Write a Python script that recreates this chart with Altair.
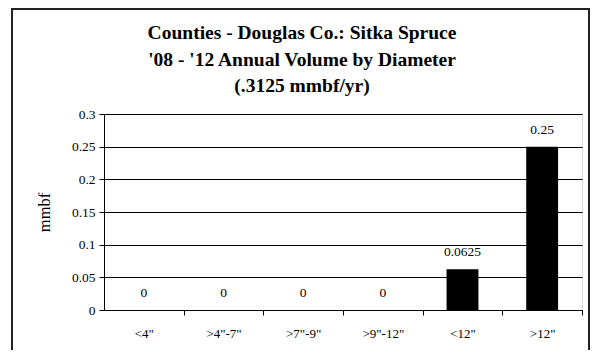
import altair as alt
import pandas as pd

categories = ['<4"', '>4"-7"', '>7"-9"', '>9"-12"', '<12"', '>12"']
values = [0, 0, 0, 0, 0.0625, 0.25]
y_ticks = [0, 0.05, 0.1, 0.15, 0.2, 0.25, 0.3]
title_lines = ["Counties - Douglas Co.: Sitka Spruce",
               "'08 - '12 Annual Volume by Diameter",
               "(.3125 mmbf/yr)"]

df = pd.DataFrame({"cat": categories, "val": values,
                   "label": [f"{v:g}" for v in values]})

W, H = 478, 196
step = W / len(categories)
FONT = "Liberation Serif"

x_enc = alt.X("cat:N", sort=categories, title=None,
              scale=alt.Scale(paddingInner=0.6, paddingOuter=0.3),
              axis=alt.Axis(labelAngle=0, labelFont=FONT, labelFontSize=13,
                            labelColor="black", tickColor="black", domainColor="black",
                            tickSize=5, labelPadding=12,
                            tickOffset=step / 2, labelOffset=-step / 2))
y_enc = alt.Y("val:Q", title="mmbf",
              scale=alt.Scale(domain=[0, 0.3], nice=False),
              axis=alt.Axis(values=y_ticks, format="~g", labelFont=FONT, labelFontSize=13.5,
                            labelColor="black", tickColor="black", domainColor="black",
                            tickSize=5, labelPadding=4, grid=True, gridColor="black",
                            gridOpacity=1, gridWidth=1, labelOverlap=False,
                            titleFont=FONT, titleFontSize=16.5, titleFontWeight="normal",
                            titleColor="black", titleX=-52, titleY=H / 2))

base = alt.Chart(df)
bars = base.mark_bar(color="black").encode(x=x_enc, y=y_enc)
text = base.mark_text(font=FONT, fontSize=13.5, color="black", baseline="middle",
                      dy=-17).encode(x=x_enc, y=y_enc, text="label:N")
frame = alt.Chart(pd.DataFrame({"a": [0]})).mark_rect(
    fill=None, stroke="#222222", strokeWidth=2).encode(
    x=alt.value(-92), x2=alt.value(485), y=alt.value(-105), y2=alt.value(260))

title_df = pd.DataFrame({"line": title_lines, "i": [0, 1, 2]})
title_pos = [-81, -54.5, -28]
titles = [
    alt.Chart(title_df[title_df.i == k]).mark_text(
        font=FONT, fontSize=19.5, fontWeight="bold", color="black",
        baseline="middle", align="center").encode(
        text="line:N", x=alt.value(198), y=alt.value(title_pos[k]))
    for k in range(3)
]

chart = alt.layer(frame, bars, text, *titles).properties(
    width=W, height=H,
    autosize=alt.AutoSizeParams(type="none"),
    padding={"left": 96, "top": 106, "right": 9, "bottom": 40},
).configure_view(stroke="black", strokeWidth=1).configure(background="white")

chart.save("out.html", embed_options={"renderer": "svg", "actions": False})
